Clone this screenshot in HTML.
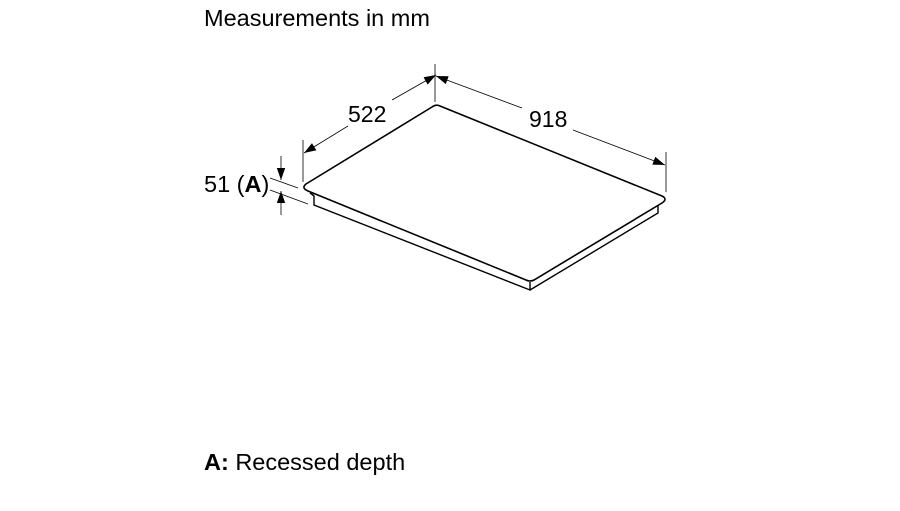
<!DOCTYPE html><html><head><style>body{margin:0;background:#fff;width:900px;height:506px;overflow:hidden;font-family:"Liberation Sans",sans-serif}</style></head><body>
<svg width="900" height="506" viewBox="0 0 900 506" xmlns="http://www.w3.org/2000/svg" font-family="Liberation Sans, sans-serif">
<defs><marker id="a" viewBox="0 0 10 10" refX="10" refY="5" markerWidth="12" markerHeight="12" markerUnits="userSpaceOnUse" orient="auto"><path d="M0,1.5L10,5L0,8.5z" fill="#000"/></marker></defs>
<text x="204" y="26" font-size="23.5">Measurements in mm</text>
<text x="204" y="470" font-size="23.5"><tspan font-weight="bold">A:</tspan> Recessed depth</text>
<text x="204" y="192" font-size="23.5">51 (<tspan font-weight="bold">A</tspan>)</text>
<text x="348" y="122" font-size="23">522</text>
<text x="529" y="127" font-size="23">918</text>
<g stroke="#000" fill="none">
<path d="M432,107 Q436,104 440,106 L662,196 Q668,199 662,203 L534,280 Q530,282 526,280 L308,191 Q301,188 306,184 Z" stroke-width="1.6"/>
<path d="M310,193 Q313,195 314,196 L314,205 L530,290 L530,282 M530,290 L658,213 L658,206" stroke-width="1.4"/>
<g stroke-width="0.8">
<line x1="303" y1="140" x2="303" y2="182"/><line x1="435" y1="64" x2="435" y2="102"/><line x1="666" y1="152" x2="666" y2="192"/>
<line x1="270" y1="178" x2="298" y2="188"/><line x1="270" y1="190" x2="308" y2="204"/>
<line x1="392" y1="100" x2="436" y2="75" marker-end="url(#a)"/><line x1="348" y1="126" x2="304" y2="153" marker-end="url(#a)"/>
<line x1="522" y1="108" x2="436" y2="76" marker-end="url(#a)"/><line x1="573" y1="130" x2="665" y2="165" marker-end="url(#a)"/>
<line x1="281" y1="156" x2="281" y2="180" marker-end="url(#a)"/><line x1="281" y1="215" x2="281" y2="191" marker-end="url(#a)"/>
</g></g></svg></body></html>
